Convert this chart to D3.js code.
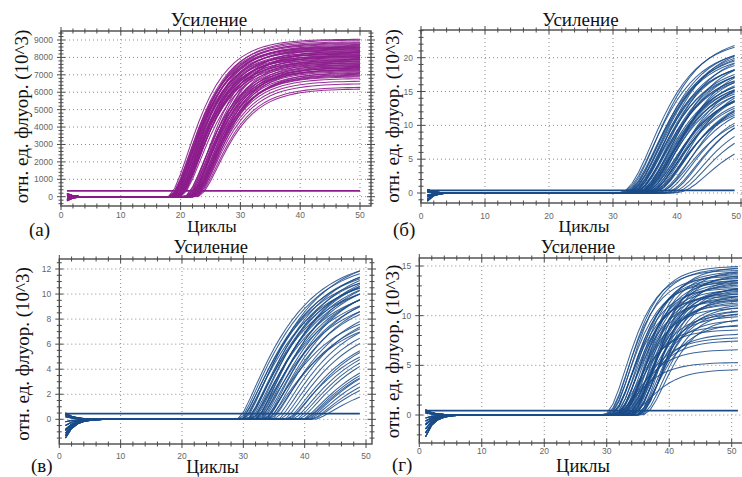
<!DOCTYPE html>
<html>
<head>
<meta charset="utf-8">
<script src="https://cdn.jsdelivr.net/npm/d3@7"></script>
<style>
body { margin: 0; background: #fff; }
svg { display: block; }
</style>
</head>
<body>
<svg id="chart" width="742" height="477"></svg>
<script>
const SERIF = "'Liberation Serif', 'Times New Roman', 'DejaVu Serif', serif";
const SANS = "'Liberation Sans', Arial, sans-serif";
const W = 742;

// cycles measured in each run
const cyclesA = d3.range(1, 51);
const cyclesB = d3.range(1, 50);
const cyclesV = d3.range(1, 50);
const cyclesG = d3.range(1, 52);

const xTicks = [0, 10, 20, 30, 40, 50];
const yTicksA = [0, 1000, 2000, 3000, 4000, 5000, 6000, 7000, 8000, 9000];
const yTicksB = [0, 5, 10, 15, 20];
const yTicksV = [0, 2, 4, 6, 8, 10, 12];
const yTicksG = [0, 5, 10, 15];

// (а) half-rise cycle and plateau of each curve
const midA = [23.3,23.5,23.6,23.7,23.8,23.8,23.9,24.0,24.1,24.1,24.2,24.3,24.3,24.4,24.5,24.6,24.6,24.7,24.8,24.9,24.9,25.0,25.1,25.2,25.3,25.4,
  26.4,26.5,26.6,26.7,26.8,26.8,26.9,27.0,27.1,27.1,27.2,27.3,27.4,27.5,27.6,27.7,27.8,27.9,28.1,28.3,
  23.7,24.2,24.7,25.1,26.1,26.7,27.2,27.7,23.9,24.5,25.0,26.0,26.9,27.4,28.0,24.8,26.3,27.6];
const topA = [9050,8600,8900,8400,8750,8200,8550,9000,8300,8650,8100,8450,8850,8000,8500,7900,8700,8250,7800,8550,8050,7700,8350,7950,8150,7600,
  8500,7500,8300,7400,8100,7300,7900,7200,8400,7100,7700,7000,7600,6800,7450,6650,7350,6500,6300,6200,
  8800,8200,7750,7850,7550,7250,6900,7050,8600,8000,7650,7400,7800,6950,7150,8100,7300,7500];
const startA = [-240, 180, -120, 90, -60, 150, -200, 40, 110, -160, 20, -80];

// (б)
const midB = [38.0,38.2,38.5,38.7,38.9,39.0,39.2,39.4,39.5,39.7,39.8,40.0,40.1,40.3,40.5,40.6,40.8,40.9,41.1,41.3,41.4,41.6,41.8,42.0,42.2,42.4,42.6,42.9,43.2,43.5,43.9,44.3,44.9,45.7,46.7,
  38.6,39.3,39.9,40.4,41.0,41.5,42.1,42.7,39.1,40.2,40.7,41.2,41.9,42.5,43.1,43.7,45.2,46.2,39.7,40.9,42.3];
const topB = [22.8,21.5,23.2,20.5,21.8,19.5,21.2,18.5,20.4,19.8,22.0,17.8,18.8,21.0,16.8,19.0,17.4,20.2,16.0,18.4,17.0,15.4,19.4,16.4,14.8,17.6,15.8,14.2,16.8,13.6,15.0,13.0,12.5,11.5,8.6,
  20.8,19.6,18.0,17.2,16.6,15.2,14.4,13.8,21.4,18.2,16.2,17.8,15.6,13.4,14.6,12.2,12.8,10.5,19.0,17.0,15.8];
const startB = [-1.2, 0.5, -0.6, 0.3, -0.9, 0.4, -0.3, 0.2, -1.0, 0.5, -0.4, 0.1];

// (в)
const midV = [36.0,36.3,36.6,37.0,37.2,37.5,37.8,38.0,38.3,38.6,39.0,39.3,39.6,36.8,37.4,
  38.2,38.8,39.4,40.0,40.5,41.0,41.5,40.2,42.0,41.2,42.5,40.8,43.0,43.5,
  44.0,44.5,44.2,45.0,45.5,46.0,46.5,46.8,47.0,47.3,47.6,48.0,48.2,48.6,
  37.6,38.4,39.1,39.8,40.4,36.5,38.9,40.6];
const topV = [13.0,12.8,12.4,12.6,13.2,12.2,12.8,12.0,12.6,11.8,12.4,11.6,12.0,11.6,11.2,
  10.8,10.4,10.0,10.6,10.0,10.4,9.6,9.0,9.2,8.8,8.8,8.4,8.4,8.0,
  7.4,7.4,6.8,6.8,6.6,6.4,5.8,5.6,5.4,5.4,5.0,4.6,4.2,3.4,
  11.8,11.4,11.0,11.2,11.4,12.0,12.2,10.8];
const startV = [-1.5, 0.4, -0.8, 0.3, -1.1, 0.5, -0.5, 0.2, -0.9, 0.4, -0.2, -1.3];

// (г)
const midG = [34.4,34.7,35.0,35.2,35.4,35.6,35.8,36.0,36.1,36.3,36.5,36.6,36.8,37.0,37.1,37.3,37.5,37.6,37.8,38.0,38.1,38.3,38.5,38.6,38.8,39.0,39.2,39.4,39.6,39.8,40.0,40.3,40.6,
  34.9,35.5,36.2,36.9,37.4,37.9,38.4,38.9,39.5,40.1,35.3,35.9,36.4,37.2,37.7,38.2,38.7,39.1,39.7,36.7,36.0,37.0,35.7,38.0];
const topG = [14.6,14.0,13.4,14.8,12.8,13.8,12.2,14.2,11.6,13.0,14.5,10.8,13.6,12.4,11.2,14.9,10.2,13.2,12.0,11.4,14.0,9.6,12.6,13.4,10.6,11.8,12.9,9.2,13.8,11.0,12.2,10.4,9.8,
  15.0,13.6,12.6,11.8,14.4,10.0,12.8,14.2,11.2,13.0,12.0,8.6,9.0,13.4,8.2,11.6,14.6,12.4,10.6,7.8,6.6,7.5,5.3,4.6];
const startG = [-2.2, 0.5, -1.0, 0.3, -1.4, 0.4, -0.6, 0.2, -1.8, 0.5, -0.3, -0.9];

const thresholds = [330, 0.4, 0.45, 0.45];

const MAGENTA = "#8c1c8c";
const BLUE = "#1a4b88";

const panels = [
  { letter: "(а)", cycles: cyclesA, mid: midA, top: topA, start: startA, thr: thresholds[0],
    color: MAGENTA, opacity: 0.9, k: 0.235, nu: -0.45, tau: 0.9,
    xr: [61, 360], yRef: [0, 9000], yr: [196.7, 40], yTicks: yTicksA, yMinor: 200,
    frame: { l: 61, r: 371, t: 31, b: 206 }, xTickY: 218,
    title: [209, 25.5, 19], xlab: [212, 232, 17], ylab: [28, 116.5], let: [29, 236] },
  { letter: "(б)", cycles: cyclesB, mid: midB, top: topB, start: startB, thr: thresholds[1],
    color: BLUE, opacity: 0.85, k: 0.22, nu: -0.3, tau: 0.9,
    xr: [421, 741], yRef: [0, 20], yr: [193, 57.7], yTicks: yTicksB, yMinor: 1,
    frame: { l: 421, r: 748, t: 30, b: 203 }, xTickY: 218.5,
    title: [580.5, 25.5, 19], xlab: [584, 232, 17.5], ylab: [399, 116], let: [393, 236] },
  { letter: "(в)", cycles: cyclesV, mid: midV, top: topV, start: startV, thr: thresholds[2],
    color: BLUE, opacity: 0.85, k: 0.14, nu: -0.7, tau: 1.4,
    xr: [59.3, 366], yRef: [0, 12], yr: [419.3, 269], yTicks: yTicksV, yMinor: 0.5,
    frame: { l: 59.3, r: 372, t: 259, b: 444 }, xTickY: 459,
    title: [210.8, 252.5, 18.5], xlab: [212.5, 473, 18], ylab: [29, 354], let: [31, 472] },
  { letter: "(г)", cycles: cyclesG, mid: midG, top: topG, start: startG, thr: thresholds[3],
    color: BLUE, opacity: 0.85, k: 0.31, nu: -0.3, tau: 1.3,
    xr: [419.3, 731.7], yRef: [0, 15], yr: [415, 266], yTicks: yTicksG, yMinor: 1,
    frame: { l: 419.3, r: 748, t: 258, b: 443 }, xTickY: 454,
    title: [578, 252.5, 18.5], xlab: [583, 472, 18.5], ylab: [399, 351.5], let: [392, 471] }
];

const svg = d3.select("#chart");
const defs = svg.append("defs");

// amplification curve: asymmetric sigmoid + decaying start offset
function amp(x, mid, top, start, p) {
  const b = 1 + (Math.pow(2, p.nu) - 1) * Math.exp(-p.k * (x - mid));
  const rise = b <= 0 ? 0 : top * Math.pow(b, -1 / p.nu);
  return rise + start * Math.exp(-(x - 1) / p.tau);
}

panels.forEach(drawPanel);

function drawPanel(p, idx) {
  const f = p.frame;
  const x = d3.scaleLinear().domain([0, 50]).range(p.xr);
  const y = d3.scaleLinear().domain(p.yRef).range(p.yr);
  const g = svg.append("g");

  defs.append("clipPath").attr("id", "clip" + idx)
    .append("rect").attr("x", f.l).attr("y", f.t).attr("width", f.r - f.l).attr("height", f.b - f.t);

  // grid
  const grid = g.append("g").attr("stroke", "#8a8a8a").attr("stroke-width", 1).attr("stroke-dasharray", "1,3");
  xTicks.filter(v => v > 0 && x(v) < f.r - 1).forEach(v => {
    grid.append("line").attr("x1", x(v)).attr("x2", x(v)).attr("y1", f.t).attr("y2", f.b);
  });
  p.yTicks.filter(v => y(v) > f.t + 1).forEach(v => {
    grid.append("line").attr("x1", f.l).attr("x2", f.r).attr("y1", y(v)).attr("y2", y(v));
  });

  // curves
  const line = d3.line().x(d => x(d[0])).y(d => y(d[1]));
  const curves = g.append("g").attr("clip-path", `url(#clip${idx})`)
    .attr("fill", "none").attr("stroke", p.color).attr("stroke-width", 1.05)
    .attr("stroke-opacity", p.opacity);

  p.mid.forEach((m, i) => {
    const st = p.start[i % p.start.length];
    const pts = p.cycles.map(c => [c, amp(c, m, p.top[i], st, p)]);
    curves.append("path").attr("d", line(pts));
  });

  // threshold
  const last = p.cycles[p.cycles.length - 1];
  curves.append("path").attr("d", line([[1, p.thr], [last, p.thr]]))
    .attr("stroke-width", 1.7).attr("stroke-opacity", 1);

  // frame
  g.append("rect").attr("x", f.l).attr("y", f.t).attr("width", f.r - f.l).attr("height", f.b - f.t)
    .attr("fill", "none").attr("stroke", "#4a4a4a").attr("stroke-width", 1.4);

  // tick marks
  const tk = g.append("g").attr("stroke", "#4a4a4a").attr("stroke-width", 1);
  const xMax = x.invert(f.r);
  d3.range(0, xMax, 2).forEach(v => {
    const len = v % 10 === 0 ? 4 : 2.5;
    tk.append("line").attr("x1", x(v)).attr("x2", x(v)).attr("y1", f.b - len).attr("y2", f.b + len);
    tk.append("line").attr("x1", x(v)).attr("x2", x(v)).attr("y1", f.t - len).attr("y2", f.t + len);
  });
  const yLo = y.invert(f.b), yHi = y.invert(f.t);
  const major = p.yTicks[1] - p.yTicks[0];
  d3.range(Math.ceil(yLo / p.yMinor) * p.yMinor, yHi, p.yMinor).forEach(v => {
    const isMajor = Math.abs(v / major - Math.round(v / major)) < 1e-6;
    const len = isMajor ? 4 : 2.5;
    tk.append("line").attr("x1", f.l - len).attr("x2", f.l + len).attr("y1", y(v)).attr("y2", y(v));
    tk.append("line").attr("x1", f.r - len).attr("x2", f.r + len).attr("y1", y(v)).attr("y2", y(v));
  });

  // tick labels (a label that would run off the page is kept inside it)
  const tickText = (sel) => sel.attr("font-family", SANS).attr("font-size", 8.5).attr("fill", "#666");
  xTicks.forEach(v => {
    const atEdge = x(v) + 6 > W;
    g.append("text").call(tickText).attr("x", atEdge ? W - 1 : x(v)).attr("y", p.xTickY)
      .attr("text-anchor", atEdge ? "end" : "middle").text(v);
  });
  p.yTicks.forEach(v => {
    g.append("text").call(tickText).attr("x", f.l - 8).attr("y", y(v) + 3)
      .attr("text-anchor", "end").text(v);
  });

  // titles and labels
  const serif = (sel, size) => sel.attr("font-family", SERIF).attr("font-size", size).attr("fill", "#111");
  g.append("text").call(serif, p.title[2]).attr("x", p.title[0]).attr("y", p.title[1])
    .attr("text-anchor", "middle").text("Усиление");
  g.append("text").call(serif, p.xlab[2]).attr("x", p.xlab[0]).attr("y", p.xlab[1])
    .attr("text-anchor", "middle").text("Циклы");
  g.append("text").call(serif, 19)
    .attr("transform", `translate(${p.ylab[0]},${p.ylab[1]}) rotate(-90)`)
    .attr("text-anchor", "middle").text("отн. ед. флуор. (10^3)");
  g.append("text").call(serif, 19).attr("x", p.let[0]).attr("y", p.let[1]).text(p.letter);
}
</script>
</body>
</html>
